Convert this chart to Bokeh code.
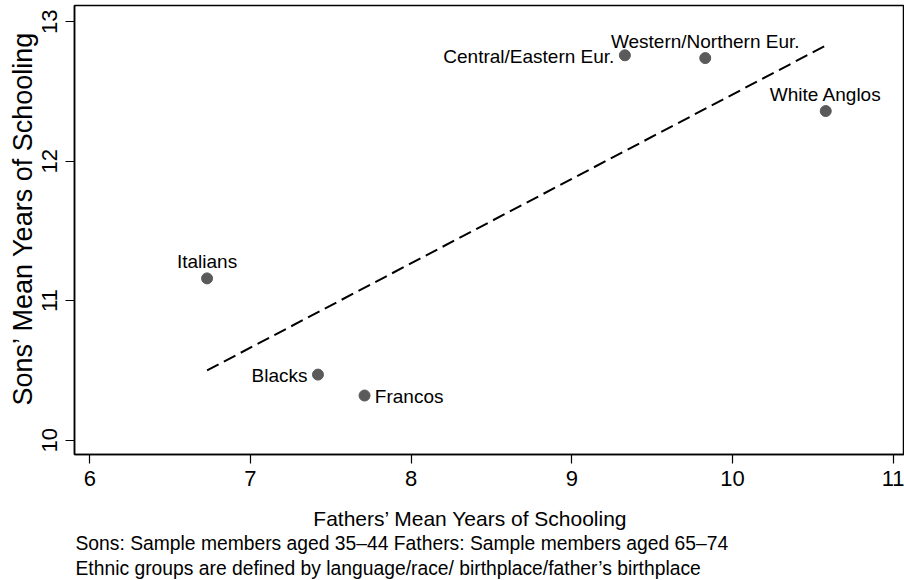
import math
from bokeh.plotting import figure
from bokeh.models import Range1d, FixedTicker, ColumnDataSource, Title
from bokeh.layouts import column
from bokeh.embed import file_html
from bokeh.resources import INLINE
from bokeh.core.properties import value

# ---- data ----
groups = ["Central/Eastern Eur.", "Western/Northern Eur.", "White Anglos",
          "Italians", "Blacks", "Francos"]
fathers = [9.33, 9.83, 10.58, 6.73, 7.42, 7.71]
sons = [12.76, 12.74, 12.36, 11.16, 10.47, 10.32]
label_side = ["left", "above", "above", "above", "left", "right"]
fit_x = [6.73, 10.58]
fit_y = [10.50, 12.83]
x_ticks = [6, 7, 8, 9, 10, 11]
y_ticks = [10, 11, 12, 13]
x_title = "Fathers\u2019 Mean Years of Schooling"
y_title = "Sons\u2019 Mean   Years of Schooling"
notes = ["Sons: Sample members aged 35\u201344 Fathers: Sample members aged 65\u201374",
         "Ethnic groups are defined by language/race/  birthplace/father\u2019s birthplace"]

FONT = "Liberation Sans"
TOP_H = 495
FRAME_LEFT = 74

# ---- main plot ----
p = figure(width=904, height=TOP_H, output_backend="svg",
           toolbar_location=None,
           x_range=Range1d(5.905, 11.070), y_range=Range1d(9.897, 13.117),
           min_border_left=FRAME_LEFT, min_border_right=0, min_border_top=5,
           min_border_bottom=41)
p.grid.visible = False
p.outline_line_color = "black"
p.outline_line_width = 1.5
p.background_fill_color = "white"
p.border_fill_color = "white"

for ax in (p.xaxis[0], p.yaxis[0]):
    ax.axis_line_width = 1.5
    ax.axis_line_color = "black"
    ax.major_tick_out = 9
    ax.major_tick_in = 0
    ax.major_tick_line_width = 1.2
    ax.minor_tick_line_color = None
    ax.major_label_text_font = FONT
    ax.major_label_text_font_size = "22px"
    ax.major_label_text_color = "black"
p.xaxis[0].ticker = FixedTicker(ticks=x_ticks)
p.yaxis[0].ticker = FixedTicker(ticks=y_ticks)
p.xaxis[0].major_label_standoff = 7
p.yaxis[0].major_label_standoff = 8
p.yaxis[0].major_label_orientation = "vertical"

# y-axis title as a side title, left of the tick labels
p.add_layout(Title(text=y_title, align="left", offset=49, standoff=0,
                   vertical_align="top",
                   text_font=FONT, text_font_size="27px",
                   text_font_style="normal", text_color="black"), "left")

p.line(fit_x, fit_y, line_color="black", line_width=2, line_dash="13 6")
p.scatter(fathers, sons, size=11, marker="circle", fill_color="#5a5a5a",
          line_color="#5a5a5a")


def sub(side):
    idx = [i for i, s in enumerate(label_side) if s == side]
    return ColumnDataSource(dict(x=[fathers[i] for i in idx],
                                 y=[sons[i] for i in idx],
                                 t=[groups[i] for i in idx]))


common = dict(text="t", text_font=value(FONT), text_font_size="19px",
              text_color="black")
p.text("x", "y", source=sub("left"), text_align="right",
       text_baseline="alphabetic", x_offset=-10.5, y_offset=0.8, **common)
p.text("x", "y", source=sub("right"), text_align="left",
       text_baseline="alphabetic", x_offset=10.3, y_offset=0.8, **common)
p.text("x", "y", source=sub("above"), text_align="center",
       text_baseline="alphabetic", x_offset=0, y_offset=-16.5, **common)

# ---- x-axis title and notes strip (its frame is aligned with the plot's) ----
pb = figure(width=904, height=580 - TOP_H, output_backend="svg",
            toolbar_location=None, x_range=Range1d(FRAME_LEFT, 904),
            y_range=Range1d(580 - TOP_H, 0), x_axis_type=None,
            y_axis_type=None, min_border_left=FRAME_LEFT, min_border_right=0,
            min_border_top=0, min_border_bottom=0)
pb.outline_line_color = None
pb.grid.visible = False
pb.background_fill_color = "white"
pb.border_fill_color = "white"
pb.text(x=[470], y=[23], text=[x_title], text_align="center",
        text_baseline="middle", text_font=value(FONT), text_font_size="21px",
        text_color="black")
pb.text(x=[75, 75], y=[47.5, 72.5], text=notes, text_align="left",
        text_baseline="middle", text_font=value(FONT),
        text_font_size="19.3px", text_color="black")

layout = column(p, pb, spacing=0)
open("out.html", "w").write(file_html(layout, INLINE))
